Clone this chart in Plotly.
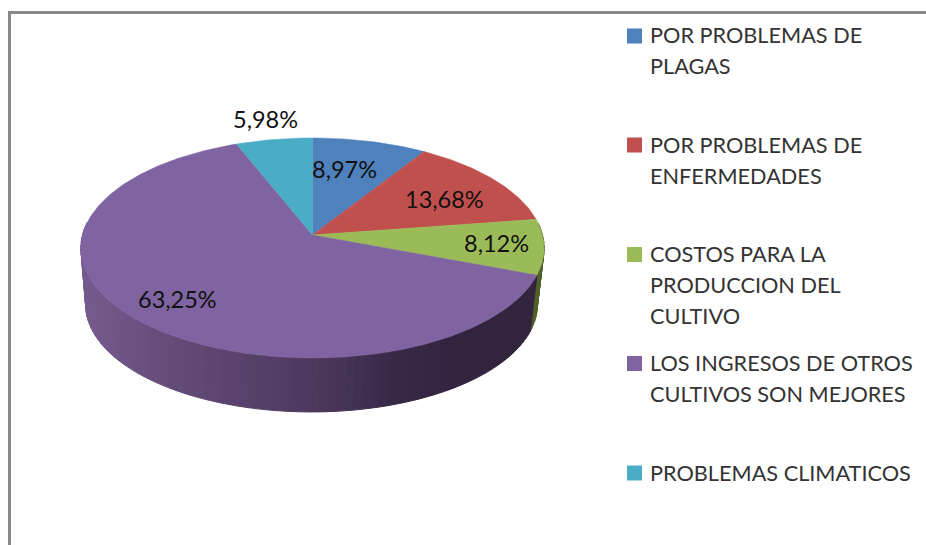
import numpy as np
import plotly.graph_objects as go

# Data
categories = ["POR PROBLEMAS DE<br>PLAGAS", "POR PROBLEMAS DE<br>ENFERMEDADES",
              "COSTOS PARA LA<br>PRODUCCION DEL<br>CULTIVO",
              "LOS INGRESOS DE OTROS<br>CULTIVOS SON MEJORES", "PROBLEMAS CLIMATICOS"]
values = [8.97, 13.68, 8.12, 63.25, 5.98]
colors = ["#4f81bd", "#c0504d", "#9bbb59", "#8064a2", "#4bacc6"]
side_colors = ["#2f4d71", "#73302e", "#4e6128", None, "#2d6776"]

# Geometry in pixel units of a 926x545 frame
AX, AY = 312.5, 235.0
A, B, K = 108.5, 230.0, 0.118
DX, DY, S = -1.0, 57.0, 0.975
label_xy = [(344.5, 169), (444, 199), (496.5, 243), (177, 299), (265, 119)]
legend_y = [36, 145, 254.5, 363.5, 473]
legend_first_line_y = [34.5, 144.5, 253.5, 362.5, 472.5]
LINE_STEP = 31
FONT = "Lato"

def proj(theta_deg, top=True):
    t = np.radians(theta_deg)
    u, v = np.sin(t), np.cos(t)
    x = B * u / (1 + K * v)
    y = -A * v / (1 + K * v)
    if top:
        return AX + x, AY + y
    return AX + DX + S * x, AY + DY + S * y

def purple_side(x):
    xs = [80, 150, 230, 310, 390, 450, 540]
    r = [118, 104, 90, 78, 58, 50, 52]
    g = [92, 80, 68, 58, 42, 36, 37]
    b = [142, 126, 110, 94, 74, 64, 62]
    return "rgb(%d,%d,%d)" % (np.interp(x, xs, r), np.interp(x, xs, g), np.interp(x, xs, b))

fig = go.Figure()
tot = sum(values)
edges = np.concatenate([[0], np.cumsum(values) / tot * 360])

# Side wall, built wedge by wedge
quads = []
for i in range(len(values)):
    th = np.arange(edges[i], edges[i + 1], 2.0)
    th = np.append(th, edges[i + 1])
    for a, b in zip(th[:-1], th[1:]):
        mid = (a + b) / 2
        if np.cos(np.radians(mid)) > 0.12:
            continue
        x0, y0 = proj(a); x1, y1 = proj(b)
        x2, y2 = proj(b, False); x3, y3 = proj(a, False)
        col = side_colors[i] or purple_side((x0 + x1) / 2)
        quads.append((y2, [x0, x1, x2, x3, x0], [y0, y1, y2, y3, y0], col))
for _, xs, ys, col in sorted(quads, key=lambda q: q[0]):
    fig.add_trace(go.Scatter(x=xs, y=ys, mode="lines", fill="toself", fillcolor=col,
                             line=dict(color=col, width=1), hoverinfo="skip", showlegend=False))

# Top face wedges
for i, val in enumerate(values):
    th = np.linspace(edges[i], edges[i + 1], max(3, int(val * 4)))
    px, py = proj(th)
    fig.add_trace(go.Scatter(x=np.r_[AX, px, AX], y=np.r_[AY, py, AY], mode="lines", fill="toself",
                             fillcolor=colors[i], line=dict(color=colors[i], width=0.5),
                             name=categories[i], hoverinfo="skip", showlegend=False))

# Legend swatches
fig.add_trace(go.Scatter(x=[634.5] * 5, y=legend_y, mode="markers",
                         marker=dict(symbol="square", size=15, color=colors, line=dict(width=0)),
                         hoverinfo="skip", showlegend=False))

ann = []
for i, val in enumerate(values):
    ann.append(dict(x=label_xy[i][0], y=label_xy[i][1], text=f"{val:.2f}%".replace(".", ","),
                    showarrow=False, xanchor="center", yanchor="middle",
                    font=dict(family=FONT, size=23.5, color="#111111")))
    for j, line in enumerate(categories[i].split("<br>")):
        ann.append(dict(x=649, y=legend_first_line_y[i] + j * LINE_STEP, text=line, showarrow=False,
                        align="left", xanchor="left", yanchor="middle", borderpad=0,
                        font=dict(family=FONT, size=21.7, color="#333333")))

shapes = [dict(type="line", x0=9.5, x1=9.5, y0=12, y1=545, line=dict(color="#898989", width=3)),
          dict(type="line", x0=8, x1=926, y0=12.5, y1=12.5, line=dict(color="#898989", width=3))]

fig.update_layout(width=926, height=545, margin=dict(l=0, r=0, t=0, b=0),
                  paper_bgcolor="white", plot_bgcolor="white",
                  xaxis=dict(range=[0, 926], visible=False, fixedrange=True),
                  yaxis=dict(range=[545, 0], visible=False, fixedrange=True),
                  annotations=ann, shapes=shapes)
fig.write_html("out.html", config={"displayModeBar": False},
               post_script="document.body.style.margin='0';document.body.style.overflow='hidden';")
